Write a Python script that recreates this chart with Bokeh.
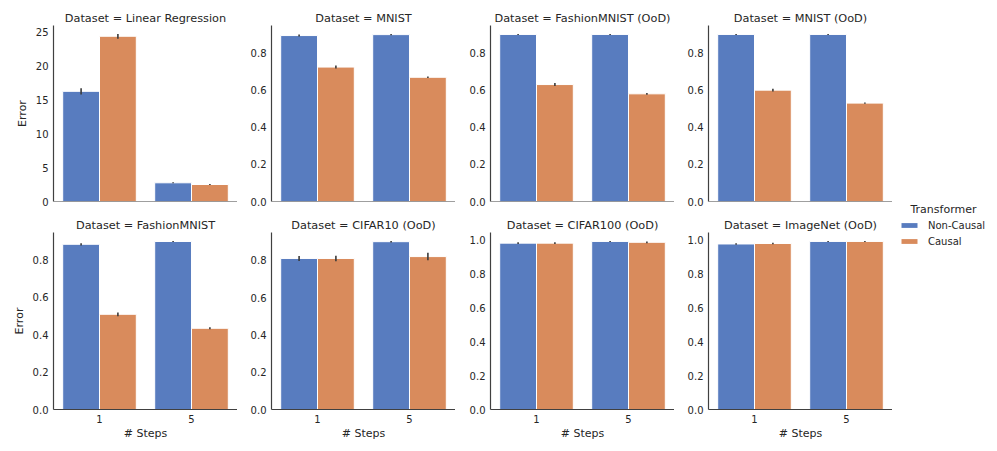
from bokeh.plotting import figure
from bokeh.layouts import row, column
from bokeh.models import (FixedTicker, NumeralTickFormatter, Legend, LegendItem,
                          Range1d, FactorRange, ColumnDataSource, Span, Label)
from bokeh.transform import dodge
from bokeh.embed import file_html
from bokeh.resources import INLINE

# ---------------- data ----------------
datasets = ["Linear Regression", "MNIST", "FashionMNIST (OoD)", "MNIST (OoD)",
            "FashionMNIST", "CIFAR10 (OoD)", "CIFAR100 (OoD)", "ImageNet (OoD)"]
steps = ["1", "5"]
series = ["Non-Causal", "Causal"]

noncausal_mean = [[16.2, 2.75], [0.895, 0.90], [0.90, 0.90], [0.90, 0.90],
                  [0.885, 0.90], [0.81, 0.90], [0.98, 0.99], [0.975, 0.99]]
noncausal_err = [[0.45, 0.08], [0.005, 0.004], [0.003, 0.003], [0.003, 0.003],
                 [0.006, 0.003], [0.013, 0.004], [0.005, 0.003], [0.004, 0.003]]
causal_mean = [[24.3, 2.5], [0.725, 0.67], [0.63, 0.58], [0.60, 0.53],
               [0.51, 0.435], [0.81, 0.82], [0.98, 0.985], [0.978, 0.99]]
causal_err = [[0.35, 0.08], [0.008, 0.004], [0.008, 0.005], [0.008, 0.004],
              [0.01, 0.005], [0.015, 0.02], [0.005, 0.005], [0.004, 0.003]]

ticks_lr = [0, 5, 10, 15, 20, 25]
ticks_08 = [0.0, 0.2, 0.4, 0.6, 0.8]
ticks_10 = [0.0, 0.2, 0.4, 0.6, 0.8, 1.0]
panel_ticks = [ticks_lr, ticks_08, ticks_08, ticks_08, ticks_08, ticks_08, ticks_10, ticks_10]

colors = ["#587cbf", "#d98b5c"]
TXT = "#262626"
AXC = "#404040"
FONT = "DejaVu Sans"

FRAME_W = 184
border_left = [53, 34, 35, 34]


def make_panel(k):
    r, c = divmod(k, 4)
    m_nc, e_nc = noncausal_mean[k], noncausal_err[k]
    m_c, e_c = causal_mean[k], causal_err[k]
    top = max(max(a + b for a, b in zip(m_nc, e_nc)), max(a + b for a, b in zip(m_c, e_c))) * 1.05
    frame_h = 176 if r == 0 else 177
    p = figure(x_range=FactorRange(*steps, range_padding=0), y_range=Range1d(0, top),
               frame_width=FRAME_W, frame_height=frame_h,
               output_backend="svg", toolbar_location=None,
               min_border_left=border_left[c], min_border_right=0,
               min_border_top=25 if r == 0 else 22,
               min_border_bottom=9 if r == 0 else 31)
    p.title.text = f"Dataset = {datasets[k]}"
    p.title.align = "center"
    p.title.text_font = FONT
    p.title.text_font_size = "11.3px"
    p.title.text_font_style = "normal"
    p.title.text_color = TXT
    p.title.standoff = 2
    p.title.offset = 0

    src = ColumnDataSource(dict(step=steps, nc=m_nc, c=m_c,
                                nc_lo=[a - b for a, b in zip(m_nc, e_nc)],
                                nc_hi=[a + b for a, b in zip(m_nc, e_nc)],
                                c_lo=[a - b for a, b in zip(m_c, e_c)],
                                c_hi=[a + b for a, b in zip(m_c, e_c)]))
    p.vbar(x=dodge("step", -0.2, range=p.x_range), top="nc", width=0.4, source=src,
           fill_color=colors[0], line_color="white", line_width=1)
    p.vbar(x=dodge("step", 0.2, range=p.x_range), top="c", width=0.4, source=src,
           fill_color=colors[1], line_color="white", line_width=1)
    p.segment(x0=dodge("step", -0.2, range=p.x_range), x1=dodge("step", -0.2, range=p.x_range),
              y0="nc_lo", y1="nc_hi", source=src, line_color="#3a3a3a", line_width=1.6)
    p.segment(x0=dodge("step", 0.2, range=p.x_range), x1=dodge("step", 0.2, range=p.x_range),
              y0="c_lo", y1="c_hi", source=src, line_color="#3a3a3a", line_width=1.6)

    p.outline_line_color = None
    p.grid.visible = False
    p.background_fill_color = "white"
    p.border_fill_color = "white"

    ya = p.yaxis[0]
    ya.ticker = FixedTicker(ticks=panel_ticks[k])
    if k != 0:
        ya.formatter = NumeralTickFormatter(format="0.0")
    ya.major_tick_out = 0
    ya.major_tick_in = 0
    ya.minor_tick_out = 0
    ya.minor_tick_in = 0
    ya.axis_line_color = AXC
    ya.axis_line_width = 1.2
    ya.major_label_text_font = FONT
    ya.major_label_text_font_size = "10px"
    ya.major_label_text_color = TXT
    ya.major_label_standoff = 5
    if c == 0:
        ya.axis_label = "Error"
        ya.axis_label_text_font = FONT
        ya.axis_label_text_font_size = "11px"
        ya.axis_label_text_font_style = "normal"
        ya.axis_label_text_color = TXT
        ya.axis_label_standoff = 4

    xa = p.xaxis[0]
    if r == 1:
        xa.major_tick_out = 0
        xa.major_tick_in = 0
        xa.axis_line_color = AXC
        xa.axis_line_width = 1.2
        xa.major_label_text_font = FONT
        xa.major_label_text_font_size = "10px"
        xa.major_label_text_color = TXT
        xa.major_label_standoff = 5
        xa.axis_label = "# Steps"
        xa.axis_label_text_font = FONT
        xa.axis_label_text_font_size = "11px"
        xa.axis_label_text_font_style = "normal"
        xa.axis_label_text_color = TXT
        xa.axis_label_standoff = 1
    else:
        xa.visible = False
        p.add_layout(Span(location=0, dimension="width", line_color=AXC, line_width=1.2))
    return p


panels = [make_panel(k) for k in range(8)]

# legend figure
LEG_H = 25 + 176 + 9 + 22 + 177 + 31
leg = figure(frame_width=100, frame_height=LEG_H, output_backend="svg", toolbar_location=None,
             min_border=0, x_range=FactorRange(*series), y_range=Range1d(0, 1))
leg.axis.visible = False
leg.grid.visible = False
leg.outline_line_color = None
r_nc = leg.vbar(x=[series[0]], top=[0], width=0.5, fill_color=colors[0], line_color=None)
r_c = leg.vbar(x=[series[1]], top=[0], width=0.5, fill_color=colors[1], line_color=None)
legend = Legend(items=[LegendItem(label=series[0], renderers=[r_nc]),
                       LegendItem(label=series[1], renderers=[r_c])],
                location=(7, LEG_H - 249),
                border_line_color=None, background_fill_alpha=0,
                label_text_font=FONT, label_text_font_size="10px", label_text_color=TXT,
                glyph_width=20, glyph_height=6, label_standoff=9, spacing=0,
                padding=0, margin=0, label_height=16)
leg.add_layout(legend)
leg.add_layout(Label(x=51, y=LEG_H - 209, x_units="screen", y_units="screen",
                     text="Transformer", text_align="center", text_baseline="middle",
                     text_font=FONT, text_font_size="11px", text_color=TXT))

layout = row(column(row(*panels[:4]), row(*panels[4:])), leg)

open("out.html", "w").write(file_html(layout, INLINE))
